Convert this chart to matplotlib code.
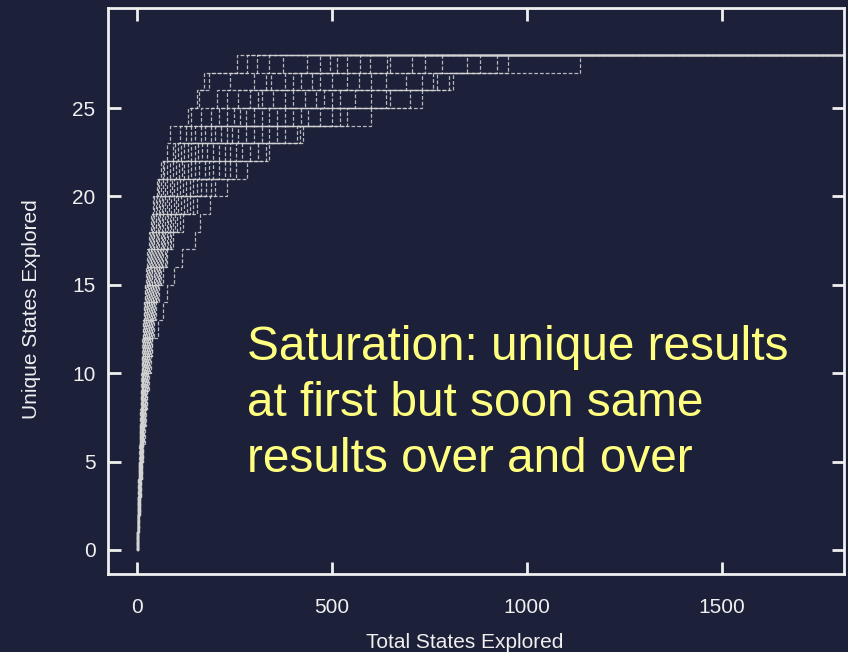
import matplotlib
matplotlib.use("Agg")
import matplotlib.pyplot as plt

# arrival step (total states explored) at which each unique state 1..28 was first seen, per run
run01 = [1,2,3,4,5,6,7,8,10,11,12,14,16,18,20,23,26,30,35,41,52,63,78,84,131,153,172,256]
run02 = [1,2,3,4,5,7,8,9,10,12,13,15,17,19,22,25,28,33,38,45,55,66,93,110,140,160,185,282]
run03 = [1,2,3,4,6,7,8,10,11,13,14,16,18,21,24,27,31,36,42,50,58,70,98,125,165,205,240,308]
run04 = [1,2,3,5,6,7,9,10,12,13,15,17,19,22,25,29,33,38,45,52,62,78,105,140,190,230,300,340]
run05 = [1,2,4,5,6,8,9,11,12,14,16,18,20,23,26,30,35,41,48,56,68,85,112,150,210,260,330,374]
run06 = [1,2,3,5,6,8,10,11,13,15,17,19,22,25,28,32,37,43,50,60,72,92,120,165,230,290,345,436]
run07 = [1,3,4,5,7,8,10,12,14,16,18,20,23,26,30,34,39,45,53,64,78,100,130,175,250,310,380,469]
run08 = [1,2,4,6,7,9,11,12,14,16,19,21,24,27,31,36,41,48,56,68,85,108,140,190,265,320,400,495]
run09 = [1,3,4,6,8,9,11,13,15,17,20,22,25,29,33,38,44,51,60,72,90,115,150,200,280,350,420,513]
run10 = [1,3,5,6,8,10,12,14,16,18,21,24,27,31,35,40,46,54,64,78,96,122,158,215,300,380,450,540]
run11 = [2,3,5,7,8,10,12,14,17,19,22,25,28,32,37,43,49,57,68,82,102,130,168,230,320,400,470,572]
run12 = [2,3,5,7,9,11,13,15,17,20,23,26,30,34,39,45,52,61,72,88,110,140,180,245,340,430,500,597]
run13 = [2,4,5,7,9,11,13,16,18,21,24,27,31,35,41,47,55,64,76,94,118,150,195,260,360,460,540,641]
run14 = [2,4,6,8,10,12,14,16,19,22,25,28,32,37,42,49,57,67,80,100,125,160,210,280,380,480,570,649]
run15 = [2,4,6,8,10,12,15,17,20,23,26,29,33,38,44,51,60,70,84,105,135,175,225,300,400,500,600,705]
run16 = [2,4,6,8,10,13,15,18,21,24,27,31,35,40,46,53,62,73,88,112,145,185,240,320,420,520,640,738]
run17 = [2,4,6,9,11,13,16,19,22,25,28,32,36,42,48,56,65,77,93,120,155,195,255,340,440,560,690,782]
run18 = [2,4,7,9,11,14,16,19,22,26,29,33,38,43,50,58,68,80,98,128,165,210,270,360,470,600,730,846]
run19 = [2,5,7,9,12,14,17,20,23,27,30,34,39,45,52,60,71,84,104,136,178,225,290,380,500,650,770,879]
run20 = [2,5,7,10,12,15,18,21,24,28,32,36,41,47,54,63,74,88,110,145,190,240,310,410,540,700,800,923]
run21 = [2,5,8,10,13,16,19,22,25,29,33,38,43,49,57,66,78,93,118,155,200,255,330,427,600,730,810,1136]
run22 = [2,5,8,11,14,17,20,23,27,31,35,40,55,66,77,95,115,148,161,187,230,282,340,418,520,640,760,951]
runs = [run01, run02, run03, run04, run05, run06, run07, run08, run09, run10, run11,
        run12, run13, run14, run15, run16, run17, run18, run19, run20, run21, run22]
run_length = 2000

x_ticks = [0, 500, 1000, 1500]
y_ticks = [0, 5, 10, 15, 20, 25]

bg = "#1c2039"
fg = "#f0f0f0"

plt.rcParams['font.family'] = ['Liberation Sans', 'DejaVu Sans']

fig = plt.figure(figsize=(8.48, 6.52), dpi=100, facecolor=bg)
ax = fig.add_axes([108/848, 1 - 574/652, (844-108)/848, (574-8)/652])
ax.set_facecolor(bg)

for i, r in enumerate(runs):
    xs = [0] + r + [run_length]
    ys = list(range(len(r) + 1)) + [len(r)]
    ax.plot(xs, ys, drawstyle='steps-post', color='#d4d4d4', lw=0.9,
            linestyle=((i * 0.7) % 4.6, (3, 1.6)), alpha=0.85)

ax.set_xlim(-74, 1813)
ax.set_ylim(-1.36, 30.66)
ax.set_xticks(x_ticks)
ax.set_yticks(y_ticks)
ax.tick_params(direction='in', length=9, width=2, colors=fg, labelsize=15,
               top=True, right=True, labeltop=False, labelright=False)
ax.tick_params(axis='x', pad=17)
ax.tick_params(axis='y', pad=9)
for s in ax.spines.values():
    s.set_color(fg)
    s.set_linewidth(2)

ax.set_xlabel("Total States Explored", color=fg, fontsize=15)
ax.set_ylabel("Unique States Explored", color=fg, fontsize=15)
ax.xaxis.set_label_coords(0.484, -0.105)
ax.yaxis.set_label_coords(-0.091, 0.468)

fig.text(247/848, 1 - 325/652,
         "Saturation: unique results\nat first but soon same\nresults over and over",
         color='#ffff80', fontsize=34.4, va='top', ha='left', linespacing=1.31)

fig.savefig("out.png", dpi=100, facecolor=bg)
